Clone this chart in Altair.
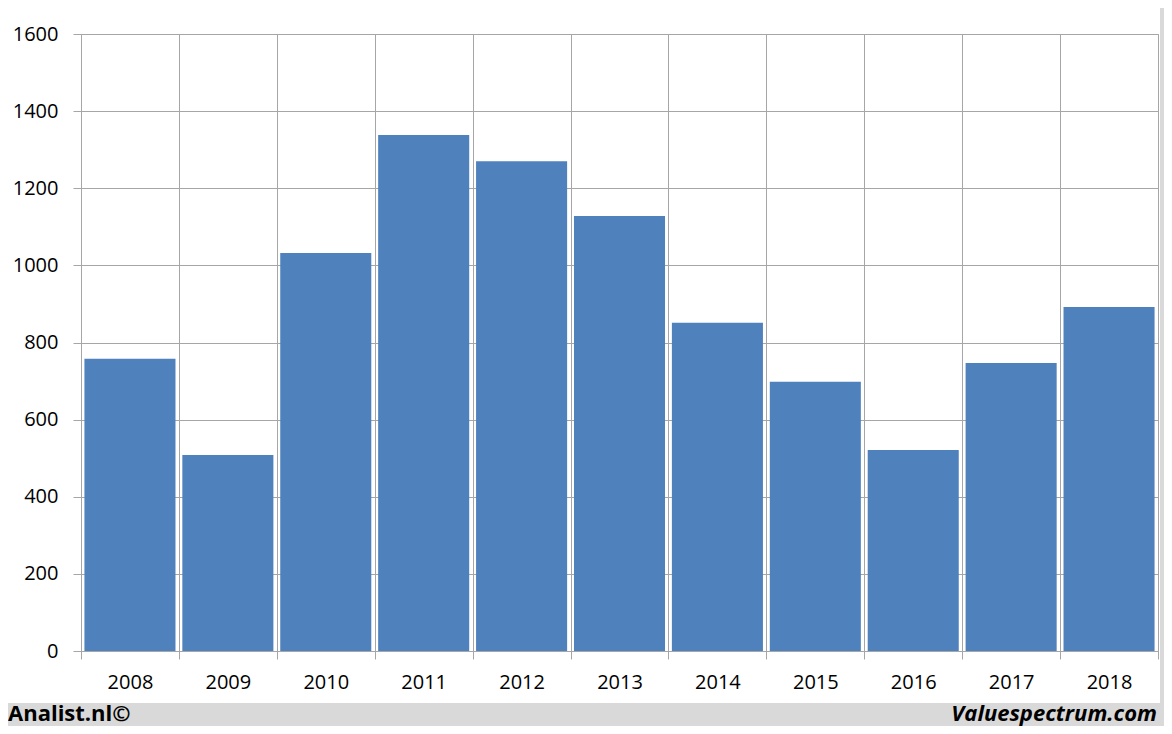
import altair as alt
import pandas as pd

years = ["2008", "2009", "2010", "2011", "2012", "2013", "2014", "2015", "2016", "2017", "2018"]
values = [758, 508, 1032, 1338, 1270, 1128, 851, 698, 521, 747, 892]
y_ticks = [0, 200, 400, 600, 800, 1000, 1200, 1400, 1600]
left_credit = "Analist.nl©"
right_credit = "Valuespectrum.com"

df = pd.DataFrame({"year": years, "value": values})
one = pd.DataFrame({"k": [0]})

W, H = 1077, 617
FONT = "Open Sans"
GRAY = "#d9d9d9"

# grey frame strips (bottom and right) around the white panel
bottom_strip = alt.Chart(one).mark_rect(color=GRAY).encode(
    x=alt.value(-80), x2=alt.value(1090), y=alt.value(669), y2=alt.value(700)
)
right_strip = alt.Chart(one).mark_rect(color=GRAY).encode(
    x=alt.value(1079), x2=alt.value(1090), y=alt.value(-30), y2=alt.value(700)
)

bars = alt.Chart(df).mark_bar(
    color="#4f81bd", width=alt.RelativeBandSize(0.93)
).encode(
    x=alt.X(
        "year:N",
        sort=years,
        title=None,
        scale=alt.Scale(paddingInner=0, paddingOuter=0),
        axis=alt.Axis(
            tickBand="extent",
            grid=True,
            gridColor="#a6a6a6",
            tickColor="#a6a6a6",
            tickSize=8,
            domainColor="#a6a6a6",
            labelAngle=0,
            labelFont=FONT,
            labelFontSize=20,
            labelColor="black",
            labelPadding=13,
        ),
    ),
    y=alt.Y(
        "value:Q",
        title=None,
        scale=alt.Scale(domain=[0, 1600], nice=False),
        axis=alt.Axis(
            values=y_ticks,
            format="d",
            grid=True,
            gridColor="#a6a6a6",
            tickColor="#a6a6a6",
            tickSize=8,
            domainColor="#a6a6a6",
            labelFont=FONT,
            labelFontSize=20,
            labelColor="black",
            labelPadding=15,
        ),
    ),
)

left_text = alt.Chart(one).mark_text(
    align="left", baseline="alphabetic", font=FONT, fontSize=22, fontWeight="bold", color="black"
).encode(x=alt.value(-73), y=alt.value(687), text=alt.value(left_credit))

right_text = alt.Chart(one).mark_text(
    align="right", baseline="alphabetic", font=FONT, fontSize=22, fontWeight="bold",
    fontStyle="italic", color="black"
).encode(x=alt.value(1076), y=alt.value(687), text=alt.value(right_credit))

chart = alt.layer(bottom_strip, right_strip, bars, left_text, right_text).properties(
    width=W,
    height=H,
    autosize=alt.AutoSizeParams(type="none"),
    padding={"left": 73, "top": 26, "right": 6, "bottom": 75},
    background="white",
).configure_view(stroke="#a6a6a6", fill=None)

chart.save("out.html", embed_options={"renderer": "svg", "actions": False})
